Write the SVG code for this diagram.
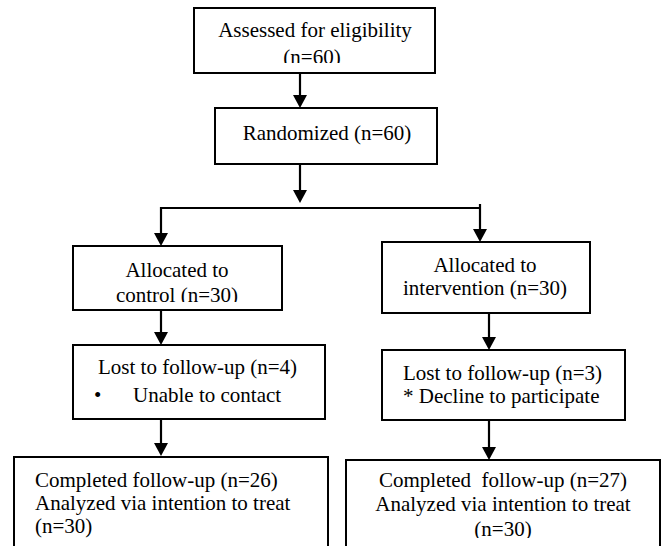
<svg xmlns="http://www.w3.org/2000/svg" width="663" height="546" viewBox="0 0 663 546">
<style>
.box{fill:#fff;stroke:#000;stroke-width:2}
.ln{stroke:#000;stroke-width:2.2;fill:none}
.hd{fill:#000}
.t{font-family:'Liberation Serif','Times New Roman',Times,'DejaVu Serif',serif;font-size:21px;fill:#000;white-space:pre}
.c{text-anchor:middle}
</style>
<defs>
<clipPath id="clipTop"><rect x="194" y="8" width="241" height="55"/></clipPath>
<clipPath id="clipCtl"><rect x="73" y="246" width="209" height="56"/></clipPath>
<clipPath id="clipCR"><rect x="346" y="460" width="314" height="78"/></clipPath>
</defs>
<rect width="663" height="546" fill="#fff"/>
<g id="connectors">
<line class="ln" x1="300" y1="73" x2="300" y2="96"/><polygon class="hd" points="293,95 307,95 300,108"/>
<line class="ln" x1="300" y1="164" x2="300" y2="191"/><polygon class="hd" points="293,190 307,190 300,203"/>
<line class="ln" x1="160" y1="208" x2="481" y2="208"/>
<line class="ln" x1="161" y1="207" x2="161" y2="234"/><polygon class="hd" points="154,233 168,233 161,246"/>
<line class="ln" x1="480" y1="204" x2="480" y2="230"/><polygon class="hd" points="473,229 487,229 480,242"/>
<line class="ln" x1="161" y1="310" x2="161" y2="333"/><polygon class="hd" points="154,332 168,332 161,345"/>
<line class="ln" x1="161" y1="419" x2="161" y2="444"/><polygon class="hd" points="154,443 168,443 161,456"/>
<line class="ln" x1="489" y1="313" x2="489" y2="338"/><polygon class="hd" points="482,337 496,337 489,350"/>
<line class="ln" x1="489" y1="420" x2="489" y2="448"/><polygon class="hd" points="482,447 496,447 489,460"/>
</g>
<g id="assessed">
<rect class="box" x="194" y="8" width="241" height="65"/>
<g clip-path="url(#clipTop)">
<text class="t c" x="315" y="37">Assessed for eligibility</text>
<text class="t c" x="312" y="64">(n=60)</text>
</g>
</g>
<g id="randomized">
<rect class="box" x="215" y="108" width="222" height="56"/>
<text class="t c" x="327" y="140">Randomized (n=60)</text>
</g>
<g id="alloc-control">
<rect class="box" x="73" y="246" width="209" height="64"/>
<g clip-path="url(#clipCtl)">
<text class="t c" x="177" y="277">Allocated to</text>
<text class="t c" x="177" y="302">control (n=30)</text>
</g>
</g>
<g id="alloc-intervention">
<rect class="box" x="382" y="242" width="208" height="71"/>
<text class="t c" x="485" y="272">Allocated to</text>
<text class="t c" x="485" y="295">intervention (n=30)</text>
</g>
<g id="lost-control">
<rect class="box" x="73" y="345" width="252" height="74"/>
<text class="t" x="98" y="374">Lost to follow-up (n=4)</text>
<text class="t" x="94" y="402">•</text>
<text class="t" x="133" y="402">Unable to contact</text>
</g>
<g id="lost-intervention">
<rect class="box" x="382" y="350" width="243" height="70"/>
<text class="t" x="403" y="380">Lost to follow-up (n=3)</text>
<text class="t" x="403" y="403">* Decline to participate</text>
</g>
<g id="completed-control">
<rect class="box" x="14" y="457" width="314" height="100"/>
<text class="t" x="35" y="487">Completed follow-up (n=26)</text>
<text class="t" x="35" y="510">Analyzed via intention to treat</text>
<text class="t" x="35" y="533">(n=30)</text>
</g>
<g id="completed-intervention">
<rect class="box" x="346" y="460" width="314" height="100"/>
<g clip-path="url(#clipCR)">
<text class="t c" x="503" y="487">Completed  follow-up (n=27)</text>
<text class="t c" x="503" y="511">Analyzed via intention to treat</text>
<text class="t c" x="503" y="536">(n=30)</text>
</g>
</g>
</svg>
